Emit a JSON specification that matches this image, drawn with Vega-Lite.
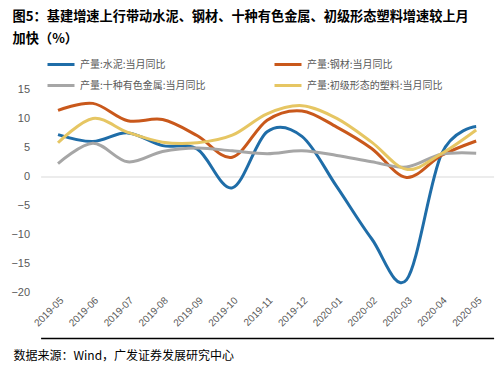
{
  "$schema": "https://vega.github.io/schema/vega-lite/v6.json",
  "width": 453,
  "height": 202.5,
  "autosize": {"type": "none"},
  "padding": {"left": 40.6, "top": 89.5, "right": 10.4, "bottom": 76},
  "background": "white",
  "config": {"view": {"stroke": null}},
  "title": {
    "text": ["图5：基建增速上行带动水泥、钢材、十种有色金属、初级形态塑料增速较上月", "加快（%）"],
    "anchor": "start",
    "frame": "group",
    "dx": -28,
    "offset": 3,
    "fontSize": 13.2,
    "lineHeight": 22,
    "font": "Noto Sans CJK SC",
    "fontWeight": "bold",
    "color": "#000000"
  },
  "data": {
    "values": [
      {"month": "2019-05", "series": "产量:水泥:当月同比", "value": 7.2},
      {"month": "2019-06", "series": "产量:水泥:当月同比", "value": 6.0},
      {"month": "2019-07", "series": "产量:水泥:当月同比", "value": 7.5},
      {"month": "2019-08", "series": "产量:水泥:当月同比", "value": 5.3},
      {"month": "2019-09", "series": "产量:水泥:当月同比", "value": 4.7},
      {"month": "2019-10", "series": "产量:水泥:当月同比", "value": -2.0},
      {"month": "2019-11", "series": "产量:水泥:当月同比", "value": 7.7},
      {"month": "2019-12", "series": "产量:水泥:当月同比", "value": 6.9},
      {"month": "2020-01", "series": "产量:水泥:当月同比", "value": -1.8},
      {"month": "2020-02", "series": "产量:水泥:当月同比", "value": -10.8},
      {"month": "2020-03", "series": "产量:水泥:当月同比", "value": -17.9},
      {"month": "2020-04", "series": "产量:水泥:当月同比", "value": 3.8},
      {"month": "2020-05", "series": "产量:水泥:当月同比", "value": 8.6},
      {"month": "2019-05", "series": "产量:钢材:当月同比", "value": 11.4},
      {"month": "2019-06", "series": "产量:钢材:当月同比", "value": 12.6},
      {"month": "2019-07", "series": "产量:钢材:当月同比", "value": 9.6},
      {"month": "2019-08", "series": "产量:钢材:当月同比", "value": 9.8},
      {"month": "2019-09", "series": "产量:钢材:当月同比", "value": 7.0},
      {"month": "2019-10", "series": "产量:钢材:当月同比", "value": 3.3},
      {"month": "2019-11", "series": "产量:钢材:当月同比", "value": 9.7},
      {"month": "2019-12", "series": "产量:钢材:当月同比", "value": 11.3},
      {"month": "2020-01", "series": "产量:钢材:当月同比", "value": 8.5},
      {"month": "2020-02", "series": "产量:钢材:当月同比", "value": 4.8},
      {"month": "2020-03", "series": "产量:钢材:当月同比", "value": -0.2},
      {"month": "2020-04", "series": "产量:钢材:当月同比", "value": 3.6},
      {"month": "2020-05", "series": "产量:钢材:当月同比", "value": 6.1},
      {"month": "2019-05", "series": "产量:十种有色金属:当月同比", "value": 2.2},
      {"month": "2019-06", "series": "产量:十种有色金属:当月同比", "value": 5.7},
      {"month": "2019-07", "series": "产量:十种有色金属:当月同比", "value": 2.5},
      {"month": "2019-08", "series": "产量:十种有色金属:当月同比", "value": 4.3},
      {"month": "2019-09", "series": "产量:十种有色金属:当月同比", "value": 4.9},
      {"month": "2019-10", "series": "产量:十种有色金属:当月同比", "value": 4.4},
      {"month": "2019-11", "series": "产量:十种有色金属:当月同比", "value": 3.9},
      {"month": "2019-12", "series": "产量:十种有色金属:当月同比", "value": 4.4},
      {"month": "2020-01", "series": "产量:十种有色金属:当月同比", "value": 3.6},
      {"month": "2020-02", "series": "产量:十种有色金属:当月同比", "value": 2.5},
      {"month": "2020-03", "series": "产量:十种有色金属:当月同比", "value": 1.6},
      {"month": "2020-04", "series": "产量:十种有色金属:当月同比", "value": 3.8},
      {"month": "2020-05", "series": "产量:十种有色金属:当月同比", "value": 4.0},
      {"month": "2019-05", "series": "产量:初级形态的塑料:当月同比", "value": 5.8},
      {"month": "2019-06", "series": "产量:初级形态的塑料:当月同比", "value": 10.0},
      {"month": "2019-07", "series": "产量:初级形态的塑料:当月同比", "value": 7.6},
      {"month": "2019-08", "series": "产量:初级形态的塑料:当月同比", "value": 5.9},
      {"month": "2019-09", "series": "产量:初级形态的塑料:当月同比", "value": 5.8},
      {"month": "2019-10", "series": "产量:初级形态的塑料:当月同比", "value": 7.1},
      {"month": "2019-11", "series": "产量:初级形态的塑料:当月同比", "value": 10.8},
      {"month": "2019-12", "series": "产量:初级形态的塑料:当月同比", "value": 12.2},
      {"month": "2020-01", "series": "产量:初级形态的塑料:当月同比", "value": 10.0},
      {"month": "2020-02", "series": "产量:初级形态的塑料:当月同比", "value": 5.9},
      {"month": "2020-03", "series": "产量:初级形态的塑料:当月同比", "value": 1.2},
      {"month": "2020-04", "series": "产量:初级形态的塑料:当月同比", "value": 3.9},
      {"month": "2020-05", "series": "产量:初级形态的塑料:当月同比", "value": 8.0}
    ]
  },
  "mark": {"type": "line", "interpolate": "cardinal", "strokeWidth": 3},
  "encoding": {
    "x": {
      "field": "month",
      "type": "ordinal",
      "sort": null,
      "axis": {
        "labelAngle": -45,
        "labelFontSize": 10,
        "labelFont": "Liberation Sans",
        "labelColor": "#595959",
        "ticks": false,
        "domain": true,
        "domainColor": "#000000",
        "domainWidth": 1.5,
        "offset": 46,
        "labelPadding": -43,
        "title": "数据来源：Wind，广发证券发展研究中心",
        "titleX": -27.6,
        "titleY": 17,
        "titleAnchor": "start",
        "titleAlign": "left",
        "titleBaseline": "middle",
        "titleFontSize": 12,
        "titleFontWeight": "normal",
        "titleColor": "#000000",
        "titleFont": "Noto Sans CJK SC"
      }
    },
    "y": {
      "field": "value",
      "type": "quantitative",
      "scale": {"domain": [-20, 15], "nice": false, "zero": false},
      "axis": {
        "values": [-20, -15, -10, -5, 0, 5, 10, 15],
        "title": null,
        "domain": false,
        "ticks": false,
        "labelOverlap": false,
        "labelPadding": 11,
        "labelFontSize": 11,
        "labelFont": "Liberation Sans",
        "labelColor": "#595959",
        "grid": true,
        "gridColor": "#D9D9D9",
        "gridWidth": 1,
        "gridOpacity": {"condition": {"test": "datum.value === 0", "value": 1}, "value": 0}
      }
    },
    "color": {
      "field": "series",
      "type": "nominal",
      "scale": {
        "domain": ["产量:水泥:当月同比", "产量:钢材:当月同比", "产量:十种有色金属:当月同比", "产量:初级形态的塑料:当月同比"],
        "range": ["#1F6DA8", "#C9581B", "#A6A6A6", "#E6C663"]
      },
      "legend": {
        "orient": "none",
        "legendX": 5.4,
        "legendY": -40,
        "direction": "horizontal",
        "columns": 2,
        "title": null,
        "symbolType": "stroke",
        "symbolSize": 729,
        "symbolStrokeWidth": 3,
        "labelFontSize": 10,
        "labelFont": "Noto Sans CJK SC",
        "labelColor": "#595959",
        "labelOffset": 4,
        "columnPadding": 62,
        "rowPadding": 0
      }
    }
  }
}
